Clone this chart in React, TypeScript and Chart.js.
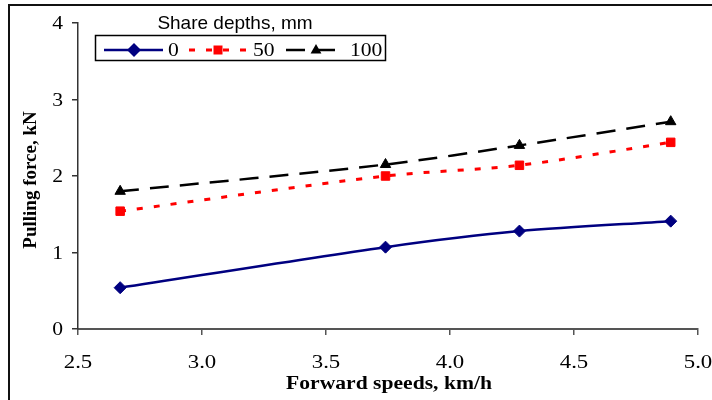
import React, { useEffect, useRef } from "react";
import { Chart, registerables } from "chart.js";

Chart.register(...registerables);

const speeds = [2.67, 3.74, 4.28, 4.89];
const depth0 = [0.54, 1.07, 1.28, 1.41];
const depth50 = [1.54, 2.0, 2.14, 2.44];
const depth100 = [1.8, 2.15, 2.4, 2.71];
const seriesLabels = ["0", "50", "100"];
const legendTitle = "Share depths, mm";
const xTitle = "Forward speeds, km/h";
const yTitle = "Pulling force, kN";

const SERIF = "'Liberation Serif', 'Times New Roman', serif";
const SANS = "'Liberation Sans', Arial, sans-serif";
const SX = 1.2;

function stretchedText(
  ctx: CanvasRenderingContext2D,
  text: string,
  x: number,
  y: number,
  align: CanvasTextAlign,
  font: string,
  sx: number,
  rot = 0
) {
  ctx.save();
  ctx.font = font;
  ctx.fillStyle = "#000";
  ctx.textAlign = align;
  ctx.textBaseline = "alphabetic";
  ctx.translate(x, y);
  ctx.scale(sx, 1);
  if (rot) ctx.rotate(rot);
  ctx.fillText(text, 0, 0);
  ctx.restore();
}

function drawMarker(ctx: CanvasRenderingContext2D, style: string, x: number, y: number, color: string) {
  ctx.save();
  ctx.fillStyle = color;
  ctx.beginPath();
  if (style === "rectRot") {
    const r = 7;
    ctx.moveTo(x, y - r);
    ctx.lineTo(x + r, y);
    ctx.lineTo(x, y + r);
    ctx.lineTo(x - r, y);
  } else if (style === "rect") {
    const s = 4.5;
    ctx.rect(x - s, y - s, 2 * s, 2 * s);
  } else {
    const r = 6;
    ctx.moveTo(x, y - r);
    ctx.lineTo(x + r * 0.9, y + r * 0.6);
    ctx.lineTo(x - r * 0.9, y + r * 0.6);
  }
  ctx.closePath();
  ctx.fill();
  ctx.restore();
}

const frameAndLegend = {
  id: "frameAndLegend",
  beforeDraw(chart: any) {
    const ctx = chart.ctx as CanvasRenderingContext2D;
    ctx.save();
    ctx.fillStyle = "#ffffff";
    ctx.fillRect(0, 0, chart.width, chart.height);
    ctx.strokeStyle = "#111";
    ctx.lineWidth = 2;
    ctx.beginPath();
    ctx.moveTo(9, 400);
    ctx.lineTo(9, 5);
    ctx.lineTo(712, 5);
    ctx.stroke();
    ctx.restore();
  },
  afterDraw(chart: any) {
    const ctx = chart.ctx as CanvasRenderingContext2D;
    const xs = chart.scales.x;
    const ys = chart.scales.y;
    // tick labels from the scales
    xs.ticks.forEach((t: any) => {
      stretchedText(ctx, Number(t.value).toFixed(1), xs.getPixelForValue(t.value), 368, "center", `19px ${SERIF}`, SX);
    });
    ys.ticks.forEach((t: any) => {
      stretchedText(ctx, String(t.value), 63, ys.getPixelForValue(t.value) + 6, "right", `18px ${SERIF}`, SX);
    });
    // axis titles
    const cx = (chart.chartArea.left + chart.chartArea.right) / 2;
    stretchedText(ctx, xTitle, cx + 1, 388.5, "center", `bold 18px ${SERIF}`, SX);
    stretchedText(ctx, yTitle, 36, 180, "center", `bold 19px ${SERIF}`, 1, -Math.PI / 2);

    ctx.save();
    // legend title
    ctx.fillStyle = "#000";
    ctx.font = `19px ${SANS}`;
    ctx.textAlign = "center";
    ctx.textBaseline = "alphabetic";
    ctx.fillText(legendTitle, 235, 29);
    // legend box
    ctx.fillStyle = "#fff";
    ctx.fillRect(95, 35, 290, 25);
    ctx.strokeStyle = "#000";
    ctx.lineWidth = 1.5;
    ctx.strokeRect(95.5, 35.5, 290, 25);
    ctx.restore();
    const items = [
      { x0: 104, x1: 163, mx: 134, tx: 168 },
      { x0: 189, x1: 246, mx: 218, tx: 253 },
      { x0: 286, x1: 337, mx: 316, tx: 350 },
    ];
    const ly = 50;
    chart.data.datasets.forEach((ds: any, i: number) => {
      const it = items[i];
      ctx.save();
      ctx.strokeStyle = ds.borderColor;
      ctx.lineWidth = ds.borderWidth;
      ctx.setLineDash(ds.borderDash || []);
      ctx.beginPath();
      ctx.moveTo(it.x0, ly);
      ctx.lineTo(it.x1, ly);
      ctx.stroke();
      ctx.restore();
      drawMarker(ctx, ds.pointStyle, it.mx, ly, ds.pointBackgroundColor);
      stretchedText(ctx, ds.label, it.tx, 55.5, "left", `18px ${SERIF}`, SX);
    });
  },
};

export default function App() {
  const ref = useRef<HTMLCanvasElement>(null);
  useEffect(() => {
    if (!ref.current) return;
    const mk = (ys: number[]) => speeds.map((x, i) => ({ x, y: ys[i] }));
    const chart = new Chart(ref.current, {
      type: "line",
      data: {
        datasets: [
          {
            label: seriesLabels[0],
            data: mk(depth0),
            borderColor: "#000080",
            backgroundColor: "#000080",
            pointBackgroundColor: "#000080",
            pointBorderColor: "#000080",
            borderWidth: 2.5,
            pointStyle: "rectRot",
            pointRadius: 6,
            pointBorderWidth: 1,
            tension: 0.3,
          },
          {
            label: seriesLabels[1],
            data: mk(depth50),
            borderColor: "#ff0000",
            backgroundColor: "#ff0000",
            pointBackgroundColor: "#ff0000",
            pointBorderColor: "#ff0000",
            borderWidth: 3,
            borderDash: [6, 11],
            pointStyle: "rect",
            pointRadius: 6,
            pointBorderWidth: 1,
            tension: 0.3,
          },
          {
            label: seriesLabels[2],
            data: mk(depth100),
            borderColor: "#000000",
            backgroundColor: "#000000",
            pointBackgroundColor: "#000000",
            pointBorderColor: "#000000",
            borderWidth: 2.5,
            borderDash: [19, 11],
            pointStyle: "triangle",
            pointRadius: 6,
            pointBorderWidth: 1,
            tension: 0.3,
          },
        ],
      },
      options: {
        responsive: false,
        animation: false,
        layout: { padding: { top: 23, right: 14, bottom: 0, left: 0 } },
        plugins: {
          legend: { display: false },
          tooltip: { enabled: false },
        },
        scales: {
          x: {
            type: "linear",
            min: 2.5,
            max: 5.0,
            afterFit: (s: any) => {
              s.height = 71;
            },
            ticks: {
              stepSize: 0.5,
              color: "rgba(0,0,0,0)",
              padding: 0,
              font: { family: SERIF, size: 1 },
              callback: (v: any) => Number(v).toFixed(1),
            },
            grid: { drawOnChartArea: false, tickLength: 6, color: "#555", lineWidth: 1.5 },
            border: { color: "#555", width: 2 },
            title: { display: false },
          },
          y: {
            min: 0,
            max: 4,
            afterFit: (s: any) => {
              s.width = 78;
            },
            ticks: {
              stepSize: 1,
              color: "rgba(0,0,0,0)",
              padding: 0,
              font: { family: SERIF, size: 1 },
            },
            grid: { drawOnChartArea: false, tickLength: 6, color: "#333", lineWidth: 1.5 },
            border: { color: "#333", width: 1.5 },
            title: { display: false },
          },
        },
      },
      plugins: [frameAndLegend],
    } as any);
    return () => chart.destroy();
  }, []);
  return (
    <div style={{ position: "absolute", left: 0, top: 0, width: 712, height: 400 }}>
      <canvas ref={ref} width={712} height={400} style={{ display: "block" }} />
    </div>
  );
}
